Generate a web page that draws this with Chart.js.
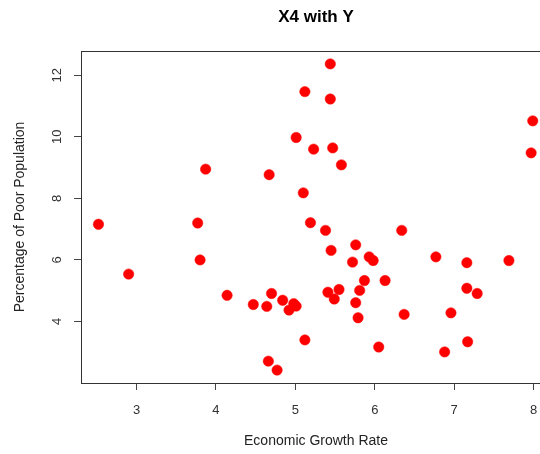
<!DOCTYPE html>
<html>
<head>
<meta charset="utf-8">
<title>X4 with Y</title>
<script src="https://cdn.jsdelivr.net/npm/chart.js@4/dist/chart.umd.min.js"></script>
<style>
  html, body { margin: 0; padding: 0; background: #fff; overflow: hidden; }
  #wrap { width: 632px; height: 454px; }
</style>
</head>
<body>
<div id="wrap"><canvas id="chart" width="632" height="454"></canvas></div>
<script>
// Economic growth rate (X4) per observation
const growthRate = [
  5.44, 5.12, 5.44, 5.01, 5.23, 5.47, 5.58, 3.87, 4.67, 5.10, 7.99, 7.97,
  2.52, 2.90, 3.77, 3.80, 4.14, 4.47, 4.64, 4.70, 4.84, 4.98, 4.92, 5.01, 4.66, 4.77,
  5.19, 5.38, 6.34, 5.76, 5.45, 5.93, 5.98, 5.72, 6.77, 7.16, 7.69, 5.87, 6.13,
  5.55, 5.41, 5.81, 5.49, 7.16, 7.29, 5.76, 5.79, 6.37, 6.96, 5.12, 6.05, 6.88, 7.17
];
// Percentage of poor population (Y) per observation
const poorPct = [
  12.37, 11.47, 11.23, 9.98, 9.60, 9.64, 9.09, 8.95, 8.77, 8.18, 10.52, 9.48,
  7.16, 5.54, 7.20, 6.00, 4.85, 4.55, 4.49, 4.91, 4.69, 4.58, 4.37, 4.50, 2.71, 2.42,
  7.21, 6.96, 6.96, 6.49, 6.31, 6.10, 5.98, 5.93, 6.10, 5.91, 5.98, 5.33, 5.33,
  5.04, 4.95, 5.01, 4.73, 5.08, 4.91, 4.61, 4.12, 4.23, 4.28, 3.40, 3.17, 3.01, 3.34
];
const xTicks = [3, 4, 5, 6, 7, 8];
const yTicks = [4, 6, 8, 10, 12];

const points = growthRate.map((x, i) => ({ x: x, y: poorPct[i] }));

const FONT = '"Liberation Sans", Arial, sans-serif';

// Frame around the plotting region plus rotated y tick labels
const framePlugin = {
  id: 'frame',
  beforeDatasetsDraw(chart) {
    const { ctx, chartArea: a } = chart;
    ctx.save();
    ctx.strokeStyle = '#333';
    ctx.lineWidth = 1;
    ctx.strokeRect(Math.round(a.left) + 0.5, Math.round(a.top) + 0.5,
                   Math.round(a.right - a.left), Math.round(a.bottom - a.top));
    const ys = chart.scales.y;
    ctx.fillStyle = '#333';
    ctx.font = '13px ' + FONT;
    ctx.textAlign = 'center';
    ctx.textBaseline = 'middle';
    yTicks.forEach(v => {
      const py = ys.getPixelForValue(v);
      ctx.save();
      ctx.translate(57, py);
      ctx.rotate(-Math.PI / 2);
      ctx.fillText(String(v), 0, 0);
      ctx.restore();
    });
    ctx.restore();
  }
};

new Chart(document.getElementById('chart'), {
  type: 'scatter',
  data: {
    datasets: [{
      data: points,
      backgroundColor: '#ff0000',
      borderColor: '#ff0000',
      borderWidth: 0.5,
      pointRadius: 5.2,
      pointHoverRadius: 5.2
    }]
  },
  options: {
    responsive: false,
    animation: false,
    events: [],
    layout: { padding: 0 },
    plugins: {
      legend: { display: false },
      tooltip: { enabled: false },
      title: {
        display: true,
        text: 'X4 with Y',
        color: '#000',
        font: { family: FONT, size: 17, weight: 'bold', lineHeight: 1.2 },
        padding: { top: 6.8, bottom: 23.8 }
      }
    },
    scales: {
      x: {
        type: 'linear',
        min: 2.30,
        max: 8.22,
        afterBuildTicks(scale) { scale.ticks = xTicks.map(v => ({ value: v })); },
        afterFit(scale) { scale.height = 71; },
        grid: { display: true, drawOnChartArea: false, drawTicks: true, tickLength: 7, color: '#444', lineWidth: 1 },
        border: { display: false },
        ticks: {
          color: '#333',
          padding: 13,
          maxRotation: 0,
          font: { family: FONT, size: 13, lineHeight: 1.2 },
          callback: v => String(v)
        },
        title: {
          display: true,
          text: 'Economic Growth Rate',
          color: '#222',
          font: { family: FONT, size: 14, lineHeight: 1.2 },
          padding: { top: 0, bottom: 4.6 }
        }
      },
      y: {
        type: 'linear',
        min: 2.0,
        max: 12.79,
        afterBuildTicks(scale) { scale.ticks = yTicks.map(v => ({ value: v })); },
        afterFit(scale) { scale.width = 81; },
        grid: { display: true, drawOnChartArea: false, drawTicks: true, tickLength: 7, color: '#444', lineWidth: 1 },
        border: { display: false },
        ticks: {
          color: 'rgba(0,0,0,0)',
          font: { family: FONT, size: 13 }
        },
        title: {
          display: true,
          text: 'Percentage of Poor Population',
          color: '#222',
          font: { family: FONT, size: 14, lineHeight: 1.2 },
          padding: { top: 11.6, bottom: 0 }
        }
      },
      // empty right-hand margin so the plot region sits where the frame belongs
      margin: {
        type: 'linear',
        position: 'right',
        display: true,
        afterFit(scale) { scale.width = 81; },
        grid: { display: false },
        border: { display: false },
        ticks: { display: false }
      }
    }
  },
  plugins: [framePlugin]
});
</script>
</body>
</html>
